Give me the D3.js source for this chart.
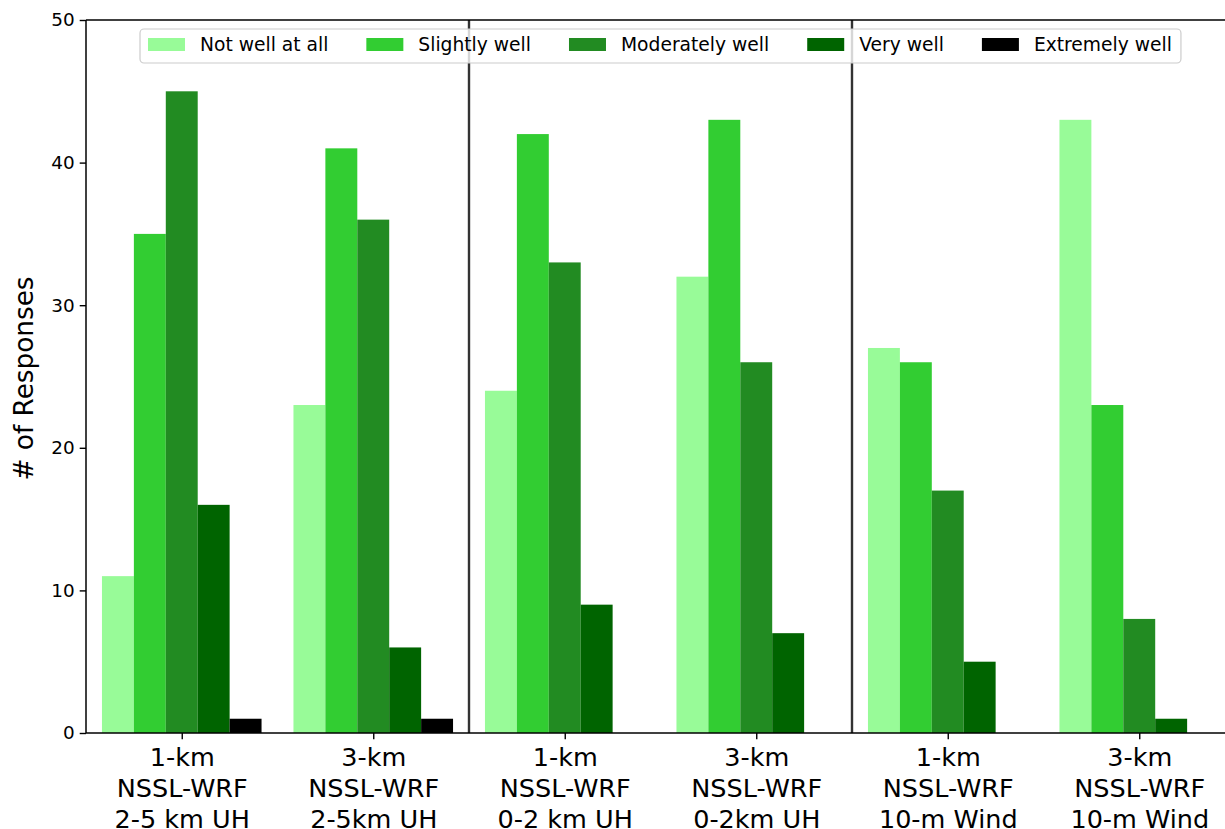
<!DOCTYPE html>
<html>
<head>
<meta charset="utf-8">
<script src="https://cdn.jsdelivr.net/npm/d3@7"></script>
<style>
  body { margin: 0; background: #fff; }
  svg { display: block; font-family: "DejaVu Sans", sans-serif; }
</style>
</head>
<body>
<svg id="chart" width="1225" height="829"></svg>
<script>
// ---- data ----
const categories = [
  ["1-km", "NSSL-WRF", "2-5 km UH"],
  ["3-km", "NSSL-WRF", "2-5km UH"],
  ["1-km", "NSSL-WRF", "0-2 km UH"],
  ["3-km", "NSSL-WRF", "0-2km UH"],
  ["1-km", "NSSL-WRF", "10-m Wind"],
  ["3-km", "NSSL-WRF", "10-m Wind"]
];
const seriesNames = ["Not well at all", "Slightly well", "Moderately well", "Very well", "Extremely well"];
const notWell      = [11, 23, 24, 32, 27, 43];
const slightlyWell = [35, 41, 42, 43, 26, 23];
const moderately   = [45, 36, 33, 26, 17, 8];
const veryWell     = [16, 6, 9, 7, 5, 1];
const extremely    = [1, 1, 0, 0, 0, 0];
const yTicks = [0, 10, 20, 30, 40, 50];
const dividers = [1.5, 3.5];
const colors = ["#98fb98", "#32cd32", "#228b22", "#006400", "#000000"];

const series = [notWell, slightlyWell, moderately, veryWell, extremely];

(function () {
// ---- layout ----
const svg = d3.select("#chart");
const pL = 86, pT = 20, pB = 733, pR = 1235;
const x = d3.scaleLinear().domain([-0.5, 5.5]).range([pL, pR]);
const y = d3.scaleLinear().domain([0, 50]).range([pB, pT]);
const w = 1 / 6;

// bars
series.forEach((vals, j) => {
  svg.append("g").selectAll("rect")
    .data(vals.map((v, i) => ({ i, v })))
    .join("rect")
    .attr("x", d => x(d.i + (j - 2) * w - w / 2))
    .attr("width", x(w) - x(0))
    .attr("y", d => y(d.v))
    .attr("height", d => y(0) - y(d.v))
    .attr("fill", colors[j]);
});

// divider lines
svg.append("g").selectAll("line")
  .data(dividers).join("line")
  .attr("x1", d => x(d)).attr("x2", d => x(d))
  .attr("y1", y(50)).attr("y2", y(0))
  .attr("stroke", "#333").attr("stroke-width", 2.4);

// y axis
const yAxis = svg.append("g").attr("transform", `translate(${pL},0)`)
  .call(d3.axisLeft(y).tickValues(yTicks).tickSize(6.3).tickPadding(5).tickSizeOuter(0));
yAxis.select(".domain").remove();
yAxis.selectAll("text").attr("font-size", 18.4).attr("fill", "#000").attr("font-family", "DejaVu Sans");
yAxis.selectAll("line").attr("stroke", "#000").attr("stroke-width", 1.4);

// x axis
const xAxis = svg.append("g").attr("transform", `translate(0,${pB})`)
  .call(d3.axisBottom(x).tickValues(d3.range(categories.length)).tickSize(6.3).tickSizeOuter(0).tickFormat(""));
xAxis.select(".domain").remove();
xAxis.selectAll("line").attr("stroke", "#000").attr("stroke-width", 1.4);
xAxis.selectAll(".tick").each(function(d) {
  const t = d3.select(this).append("text")
    .attr("fill", "#000").attr("font-size", 25.5).attr("text-anchor", "middle")
    .attr("font-family", "DejaVu Sans");
  categories[d].forEach((line, k) => {
    t.append("tspan").attr("x", 0).attr("y", 33 + k * 31).text(line);
  });
});

// spines
svg.append("line").attr("x1", pL).attr("x2", pL).attr("y1", pT).attr("y2", pB)
  .attr("stroke", "#000").attr("stroke-width", 1.5);
svg.append("line").attr("x1", pL).attr("x2", pR).attr("y1", pB).attr("y2", pB)
  .attr("stroke", "#000").attr("stroke-width", 1.5);
svg.append("line").attr("x1", pL).attr("x2", pR).attr("y1", pT).attr("y2", pT)
  .attr("stroke", "#000").attr("stroke-width", 1.5);

// y label
svg.append("text")
  .attr("transform", `translate(33,${(pT + pB) / 2 + 2}) rotate(-90)`)
  .attr("text-anchor", "middle").attr("font-size", 26.3).attr("fill", "#000")
  .text("# of Responses");

// legend
const fs = 18.7;
const lg = svg.append("g");
const frame = lg.append("rect")
  .attr("y", 29).attr("height", 34).attr("rx", 4).attr("ry", 4)
  .attr("fill", "#fff").attr("fill-opacity", 0.8)
  .attr("stroke", "#cccccc").attr("stroke-width", 1.2);
let cx = 148;
seriesNames.forEach((name, j) => {
  lg.append("rect").attr("x", cx).attr("y", 38).attr("width", 37).attr("height", 13).attr("fill", colors[j]);
  const t = lg.append("text").attr("x", cx + 37 + 15).attr("y", 51)
    .attr("font-size", fs).attr("fill", "#000").text(name);
  const tw = t.node().getComputedTextLength();
  cx = cx + 37 + 15 + tw + 38;
});
const legendRight = cx - 38 + 9;
frame.attr("x", 140).attr("width", legendRight - 140);
})();
</script>
</body>
</html>
